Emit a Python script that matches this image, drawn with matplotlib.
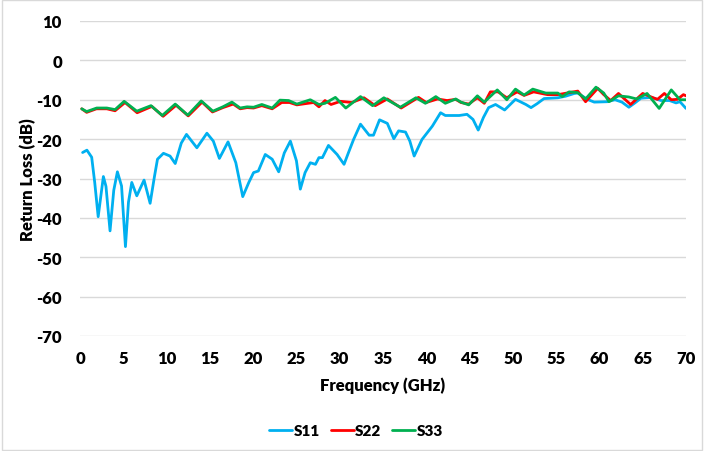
"""Return loss S11/S22/S33 vs frequency, Excel-style smoothed lines."""
import matplotlib
matplotlib.use("Agg")
import matplotlib.pyplot as plt
from matplotlib.patches import Rectangle

# S11 (GHz, dB)
f11 = [0.3, 0.8, 1.35, 1.7, 2.1, 2.7, 3.0, 3.47, 3.9, 4.32, 4.8, 5.25, 5.6, 5.98, 6.56,
       7.4, 8.1, 8.6, 8.95, 9.64, 10.4, 11.0, 11.7, 12.3, 13.5, 14.66, 15.4, 16.1, 17.1,
       18.0, 18.8, 19.5, 20.05, 20.6, 21.4, 22.2, 22.95, 23.6, 24.3, 25.0, 25.45, 26.0,
       26.6, 27.2, 27.6, 28.0, 28.7, 29.7, 30.5, 31.0, 31.6, 32.4, 33.4, 33.9, 34.6, 35.5,
       36.25, 36.8, 37.6, 38.1, 38.6, 39.5, 40.7, 41.65, 42.2, 43.8, 44.7, 45.4, 46.0,
       46.6, 47.2, 48.0, 49.05, 50.3, 51.5, 52.1, 52.8, 53.6, 55.2, 56.1, 57.1, 57.5,
       58.6, 59.4, 60.9, 61.8, 62.6, 63.4, 64.1, 64.8, 66.0, 67.1, 68.1, 68.85, 69.3, 70.0]
s11 = [-23.4, -22.8, -24.6, -31.0, -39.7, -29.5, -32.0, -43.3, -33.0, -28.3, -31.9, -47.3, -36.0,
       -31.0, -34.4, -30.4, -36.3, -29.5, -25.1, -23.6, -24.3, -26.2, -21.0, -18.8, -22.2,
       -18.5, -20.5, -24.9, -20.7, -26.0, -34.6, -31.0, -28.5, -28.1, -23.9, -25.1, -28.3,
       -23.5, -20.5, -25.5, -32.7, -28.5, -26.0, -26.4, -24.7, -24.7, -21.6, -23.9, -26.4,
       -23.5, -20.1, -16.2, -19.0, -19.0, -15.1, -16.0, -19.9, -17.9, -18.2, -20.5, -24.3,
       -20.1, -16.7, -13.3, -14.0, -14.0, -13.7, -15.0, -17.7, -14.5, -12.0, -11.2, -12.6,
       -9.9, -11.2, -12.0, -11.0, -9.7, -9.5, -9.1, -8.4, -8.3, -9.9, -10.6, -10.5, -10.0,
       -10.6, -11.9, -10.8, -9.6, -9.4, -10.2, -10.2, -10.8, -10.5, -12.2]

# S22
f22 = [0.2, 0.77, 1.9, 3.1, 4.05, 5.2, 6.6, 8.3, 9.6, 11.1, 12.5, 14.1, 15.3, 16.5, 17.7,
       18.5, 19.3, 20.05, 21.0, 22.2, 23.3, 24.2, 25.05, 26.0, 27.0, 27.6, 28.3, 29.0, 30.1,
       31.4, 32.8, 34.1, 35.5, 37.1, 39.1, 40.0, 41.3, 42.4, 43.4, 44.0, 44.9, 45.9, 46.7,
       47.4, 48.3, 49.3, 50.5, 51.3, 52.4, 54.0, 55.2, 56.5, 57.5, 58.4, 59.8, 60.5, 61.3,
       62.2, 63.6, 65.0, 66.1, 66.7, 67.5, 68.3, 69.0, 69.7, 70.0]
s22 = [-12.3, -13.2, -12.3, -12.3, -12.8, -10.7, -13.3, -11.7, -14.2, -11.4, -14.1, -10.6,
       -13.1, -12.0, -11.1, -12.3, -12.0, -12.1, -11.5, -12.3, -10.7, -10.7, -11.3, -11.0,
       -10.7, -11.8, -10.2, -11.2, -10.4, -10.7, -9.5, -11.5, -9.8, -12.1, -9.4, -10.7, -9.8,
       -10.2, -9.9, -10.7, -11.1, -9.5, -10.9, -8.0, -8.0, -9.5, -8.0, -8.9, -8.0, -8.7,
       -8.7, -8.2, -7.8, -10.5, -7.1, -8.7, -10.2, -8.4, -11.2, -8.4, -9.4, -9.9, -8.4,
       -10.0, -9.9, -8.7, -9.0]

# S33
f33 = [0.2, 0.77, 1.93, 3.1, 4.05, 5.1, 6.56, 8.2, 9.5, 11.0, 12.45, 14.0, 15.35, 16.5,
       17.55, 18.5, 19.3, 20.05, 21.0, 22.2, 23.1, 24.1, 25.05, 26.6, 27.6, 28.3, 29.5, 30.7,
       32.4, 33.8, 35.1, 37.0, 38.8, 39.9, 41.1, 42.2, 43.4, 44.0, 44.9, 45.9, 46.7, 48.2,
       49.3, 50.3, 51.3, 52.3, 53.8, 55.2, 55.7, 56.5, 57.5, 58.4, 59.6, 60.5, 61.1, 62.2,
       63.4, 64.3, 65.5, 66.9, 68.3, 69.3, 70.0]
s33 = [-12.3, -13.0, -12.1, -12.1, -12.5, -10.4, -12.9, -11.5, -14.0, -11.1, -13.9, -10.3,
       -12.9, -11.8, -10.6, -12.1, -11.8, -11.9, -11.2, -12.1, -10.1, -10.2, -11.1, -10.0,
       -11.2, -10.9, -9.4, -12.1, -9.2, -11.5, -9.5, -11.9, -9.5, -10.9, -9.2, -10.9, -9.8,
       -10.6, -11.3, -9.0, -10.6, -7.5, -10.0, -7.3, -8.8, -7.3, -8.3, -8.3, -9.2, -8.0,
       -8.2, -9.8, -6.8, -8.3, -10.5, -9.0, -9.3, -9.8, -8.4, -12.2, -7.5, -10.0, -10.0]

plt.rcParams["font.family"] = ["Lato", "DejaVu Sans"]
plt.rcParams["font.weight"] = "heavy"
plt.rcParams["axes.unicode_minus"] = False

fig = plt.figure(figsize=(7.04, 4.52), dpi=100)
ax = fig.add_axes([80 / 704, 1 - 337 / 452, 606 / 704, 315 / 452])

kw = dict(linewidth=2.0, solid_joinstyle="round", solid_capstyle="round")
ax.plot(f11, s11, color="#00B0F0", label="S11", **kw)
ax.plot(f22, s22, color="#FF0000", label="S22", **kw)
ax.plot(f33, s33, color="#00B050", label="S33", **kw)

ax.set_xlim(0, 70)
ax.set_ylim(-70, 10)
ax.set_xticks(range(0, 71, 5))
ax.set_yticks(range(-70, 11, 10))
ax.grid(axis="y", color="#d9d9d9", linewidth=1)
ax.set_axisbelow(True)
for sp in ax.spines.values():
    sp.set_visible(False)
ax.tick_params(length=0, labelsize=12)
ax.tick_params(axis="x", pad=10)
ax.tick_params(axis="y", pad=13)
for lab in ax.get_xticklabels() + ax.get_yticklabels():
    lab.set_fontweight("heavy")

ax.set_xlabel("Frequency (GHz)", fontsize=12, fontweight="heavy")
ax.set_ylabel("Return Loss (dB)", fontsize=12, fontweight="heavy")
ax.xaxis.set_label_coords(0.5, (337 - 377) / 315)
ax.yaxis.set_label_coords((36 - 80) / 606, 0.5)

fig.legend(loc="center", bbox_to_anchor=(356 / 704, 1 - 432 / 452), ncol=3, frameon=False,
           handlelength=1.5, handletextpad=0.1, columnspacing=0.7,
           prop={"weight": "heavy", "size": 11})

fig.patches.append(Rectangle((0.003, 0.003), 0.994, 0.994, transform=fig.transFigure,
                             fill=False, edgecolor="#d9d9d9", linewidth=1))

fig.savefig("out.png", dpi=100)
